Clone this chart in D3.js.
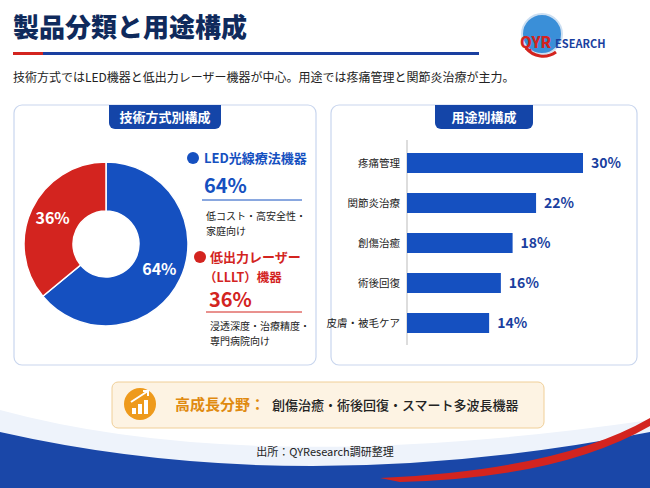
<!DOCTYPE html>
<html><head><meta charset="utf-8">
<script src="https://cdn.jsdelivr.net/npm/d3@7"></script>
<style>body{margin:0;background:#fff;} text{font-family:"Noto Sans CJK JP","Noto Sans",sans-serif;}</style>
</head><body>
<svg id="chart" width="650" height="488"></svg>
<script>
// data
var techNames = ["LED光線療法機器", "低出力レーザー（LLLT）機器"];
var techValues = [64, 36];
var techColors = ["#1550c0", "#d3241f"];
var useNames = ["疼痛管理", "関節炎治療", "創傷治癒", "術後回復", "皮膚・被毛ケア"];
var useValues = [30, 22, 18, 16, 14];

var svg = d3.select("#chart");
var navy = "#0f2a5c", blue = "#1550c0", red = "#d3241f";

// bottom swoosh
svg.append("path").attr("d", "M0,415 Q260,500 650,430 L650,488 L0,488 Z").attr("fill", "#1a47a8");
svg.append("path").attr("d", "M0,410 Q250,478 650,420 L650,432 Q300,500 0,432 Z").attr("fill", "#eef3fb");
svg.append("path").attr("d", "M380,478 Q560,470 650,418 L650,426 Q560,478 400,482 Z").attr("fill", red);

// title
svg.append("text").attr("x", 13).attr("y", 37).text("製品分類と用途構成")
  .attr("font-size", 26).attr("font-weight", 900).attr("fill", navy);
svg.append("rect").attr("x", 13).attr("y", 52).attr("width", 30).attr("height", 3).attr("fill", red);
svg.append("rect").attr("x", 43).attr("y", 52).attr("width", 436).attr("height", 3).attr("fill", "#1a3fa0");
svg.append("text").attr("x", 13).attr("y", 82).attr("font-size", 12).attr("fill", "#222")
  .text("技術方式ではLED機器と低出力レーザー機器が中心。用途では疼痛管理と関節炎治療が主力。");

// logo
var lg = svg.append("g").attr("transform", "translate(542,34)");
lg.append("circle").attr("r", 20).attr("fill", "#3a8fd8");
lg.append("circle").attr("r", 20).attr("fill", "none").attr("stroke", "#ccdff2").attr("stroke-width", 2);
lg.append("path").attr("d", "M-16,14 A22,22 0 0 0 14,18").attr("fill", "none").attr("stroke", red).attr("stroke-width", 3);
lg.append("text").attr("x", -22).attr("y", 14).attr("font-size", 15).attr("font-weight", 800).attr("fill", red).text("QYR");
lg.append("text").attr("x", 13).attr("y", 14).attr("font-size", 11).attr("font-weight", 700).attr("fill", "#1a3fa0").text("ESEARCH");

// panels
function panel(x, w, title, tw) {
  svg.append("rect").attr("x", x).attr("y", 105).attr("width", w).attr("height", 260).attr("rx", 8)
    .attr("fill", "#fff").attr("stroke", "#c9d6ee").attr("stroke-width", 1.2);
  var cx = x + w / 2;
  svg.append("path").attr("d", "M" + (cx - tw / 2) + ",105 h" + tw + " v18 a6,6 0 0 1 -6,6 h" + (-tw + 12) + " a6,6 0 0 1 -6,-6 Z").attr("fill", "#1445a8");
  svg.append("text").attr("x", cx).attr("y", 122).attr("text-anchor", "middle").attr("font-size", 13)
    .attr("font-weight", 700).attr("fill", "#fff").text(title);
}
panel(14, 302, "技術方式別構成", 112);
panel(331, 306, "用途別構成", 98);

// donut
var pie = d3.pie().sort(null).value(function(d) { return d; });
var arc = d3.arc().innerRadius(33).outerRadius(82);
var dg = svg.append("g").attr("transform", "translate(106,244)");
var arcs = pie(techValues);
dg.selectAll("path").data(arcs).enter().append("path").attr("d", arc)
  .attr("fill", function(d, i) { return techColors[i]; }).attr("stroke", "#fff").attr("stroke-width", 1.5);
var lab = d3.arc().innerRadius(59).outerRadius(59);
dg.selectAll("text.pl").data(arcs).enter().append("text")
  .attr("transform", function(d) { var c = lab.centroid(d); return "translate(" + c + ")"; })
  .attr("text-anchor", "middle").attr("dy", "0.35em").attr("font-size", 16).attr("font-weight", 700)
  .attr("fill", "#fff").text(function(d) { return d.value + "%"; });

// legend
svg.append("circle").attr("cx", 193).attr("cy", 158).attr("r", 6).attr("fill", blue);
svg.append("text").attr("x", 204).attr("y", 163).attr("font-size", 13).attr("font-weight", 700).attr("fill", blue).text("LED光線療法機器");
svg.append("text").attr("x", 204).attr("y", 193).attr("font-size", 20).attr("font-weight", 700).attr("fill", blue).text(techValues[0] + "%");
svg.append("line").attr("x1", 202).attr("x2", 302).attr("y1", 200).attr("y2", 200).attr("stroke", blue);
svg.append("text").attr("x", 206).attr("y", 220).attr("font-size", 10).attr("fill", "#222").text("低コスト・高安全性・");
svg.append("text").attr("x", 206).attr("y", 235).attr("font-size", 10).attr("fill", "#222").text("家庭向け");
svg.append("circle").attr("cx", 200).attr("cy", 257).attr("r", 6).attr("fill", red);
svg.append("text").attr("x", 210).attr("y", 262).attr("font-size", 13).attr("font-weight", 700).attr("fill", red).text("低出力レーザー");
svg.append("text").attr("x", 204).attr("y", 282).attr("font-size", 12.5).attr("font-weight", 700).attr("fill", red).text("（LLLT）機器");
svg.append("text").attr("x", 209).attr("y", 307).attr("font-size", 20).attr("font-weight", 700).attr("fill", red).text(techValues[1] + "%");
svg.append("line").attr("x1", 206).attr("x2", 302).attr("y1", 312).attr("y2", 312).attr("stroke", red);
svg.append("text").attr("x", 210).attr("y", 330).attr("font-size", 10).attr("fill", "#222").text("浸透深度・治療精度・");
svg.append("text").attr("x", 210).attr("y", 345).attr("font-size", 10).attr("fill", "#222").text("専門病院向け");

// bars
var x = d3.scaleLinear().domain([0, 30]).range([407, 583]);
var y = d3.scaleBand().domain(useNames).range([143, 343]).paddingInner(0.5).paddingOuter(0.25);
svg.append("line").attr("x1", 407).attr("x2", 407).attr("y1", 140).attr("y2", 345).attr("stroke", "#bbb");
svg.selectAll("rect.bar").data(useValues).enter().append("rect")
  .attr("x", x(0)).attr("y", function(d, i) { return y(useNames[i]); })
  .attr("width", function(d) { return x(d) - x(0); }).attr("height", y.bandwidth()).attr("fill", blue);
svg.selectAll("text.cat").data(useNames).enter().append("text")
  .attr("x", 400).attr("y", function(d) { return y(d) + y.bandwidth() / 2; }).attr("dy", "0.35em")
  .attr("text-anchor", "end").attr("font-size", 10.5).attr("fill", "#222").text(function(d) { return d; });
svg.selectAll("text.val").data(useValues).enter().append("text")
  .attr("x", function(d) { return x(d) + 8; }).attr("y", function(d, i) { return y(useNames[i]) + y.bandwidth() / 2; })
  .attr("dy", "0.35em").attr("font-size", 14).attr("font-weight", 700).attr("fill", "#1a3fa0")
  .text(function(d) { return d + "%"; });

// highlight box
svg.append("rect").attr("x", 112).attr("y", 382).attr("width", 432).attr("height", 46).attr("rx", 6)
  .attr("fill", "#fdf3e3").attr("stroke", "#f0cf98");
svg.append("circle").attr("cx", 140).attr("cy", 404).attr("r", 16).attr("fill", "#ee9a1c");
[0, 1, 2].forEach(function(i) {
  svg.append("rect").attr("x", 132 + i * 6).attr("y", 408 - i * 4).attr("width", 4).attr("height", 6 + i * 4).attr("fill", "#fff");
});
svg.append("path").attr("d", "M131,402 L148,391 M143,391 L148,391 L148,396").attr("stroke", "#fff").attr("stroke-width", 2).attr("fill", "none");
svg.append("text").attr("x", 175).attr("y", 410).attr("font-size", 15).attr("font-weight", 700).attr("fill", "#e08a10").text("高成長分野：");
svg.append("text").attr("x", 272).attr("y", 410).attr("font-size", 13).attr("font-weight", 500).attr("fill", "#222").text("創傷治癒・術後回復・スマート多波長機器");

svg.append("text").attr("x", 325).attr("y", 456).attr("text-anchor", "middle").attr("font-size", 11).attr("fill", "#222").text("出所：QYResearch調研整理");
</script>
</body></html>
